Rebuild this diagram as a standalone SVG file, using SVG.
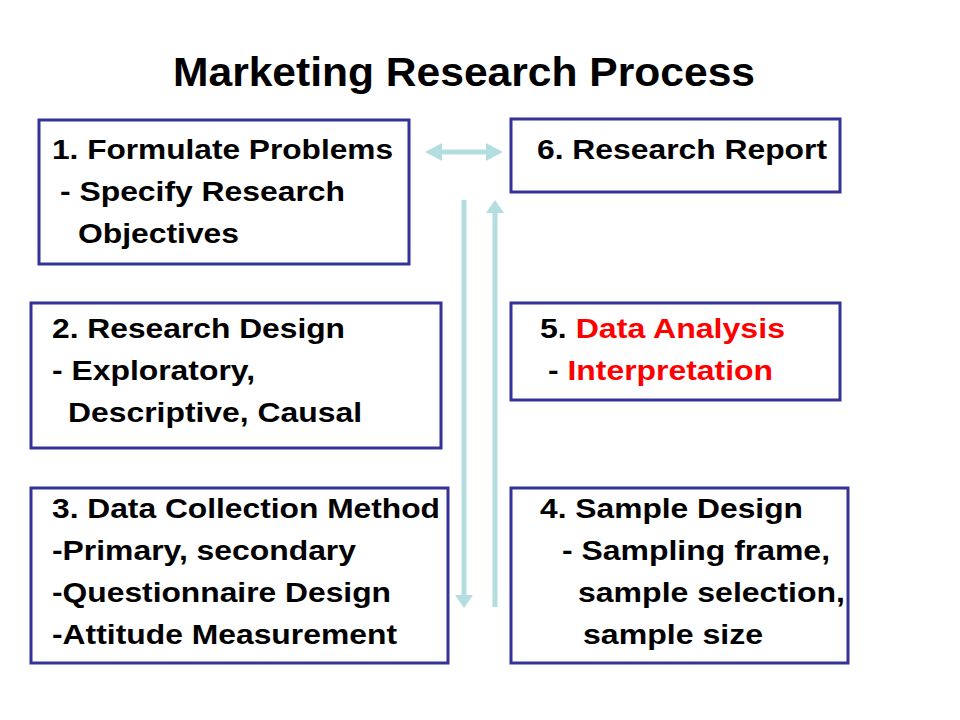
<svg xmlns="http://www.w3.org/2000/svg" width="960" height="720" viewBox="0 0 960 720">
<style>
.b{fill:#fff;stroke:#333399;stroke-width:3}
text{font-family:"Liberation Sans",Arial,sans-serif;font-weight:bold;font-size:28px;fill:#000}
.r{fill:#ff0000}
.c{stroke:#b4dde0;stroke-width:5;fill:none}
.h{fill:#b4dde0}
</style>
<rect width="960" height="720" fill="#fff"/>
<text x="173" y="86" textLength="582" lengthAdjust="spacingAndGlyphs" style="font-size:40px">Marketing Research Process</text>
<g id="n1"><rect class="b" x="39" y="120" width="370" height="144"/>
<text x="52" y="159" textLength="341" lengthAdjust="spacingAndGlyphs">1. Formulate Problems</text><text x="60" y="201" textLength="285" lengthAdjust="spacingAndGlyphs">- Specify Research</text><text x="78" y="243" textLength="161" lengthAdjust="spacingAndGlyphs">Objectives</text></g>
<g id="n6"><rect class="b" x="511" y="119" width="329" height="73"/>
<text x="537" y="159" textLength="290" lengthAdjust="spacingAndGlyphs">6. Research Report</text></g>
<g id="n2"><rect class="b" x="31" y="303" width="410" height="145"/>
<text x="52" y="338" textLength="293" lengthAdjust="spacingAndGlyphs">2. Research Design</text><text x="52" y="380" textLength="203" lengthAdjust="spacingAndGlyphs">- Exploratory,</text><text x="68" y="422" textLength="294" lengthAdjust="spacingAndGlyphs">Descriptive, Causal</text></g>
<g id="n5"><rect class="b" x="511" y="303" width="329" height="97"/>
<text x="540" y="338" textLength="245" lengthAdjust="spacingAndGlyphs">5. <tspan class="r">Data Analysis</tspan></text><text x="548" y="380" textLength="225" lengthAdjust="spacingAndGlyphs">- <tspan class="r">Interpretation</tspan></text></g>
<g id="n3"><rect class="b" x="31" y="488" width="417" height="175"/>
<text x="52" y="518" textLength="388" lengthAdjust="spacingAndGlyphs">3. Data Collection Method</text><text x="52" y="560" textLength="304" lengthAdjust="spacingAndGlyphs">-Primary, secondary</text><text x="52" y="602" textLength="339" lengthAdjust="spacingAndGlyphs">-Questionnaire Design</text><text x="52" y="644" textLength="345" lengthAdjust="spacingAndGlyphs">-Attitude Measurement</text></g>
<g id="n4"><rect class="b" x="511" y="488" width="337" height="175"/>
<text x="540" y="518" textLength="263" lengthAdjust="spacingAndGlyphs">4. Sample Design</text><text x="562" y="560" textLength="268" lengthAdjust="spacingAndGlyphs">- Sampling frame,</text><text x="578" y="602" textLength="267" lengthAdjust="spacingAndGlyphs">sample selection,</text><text x="583" y="644" textLength="180" lengthAdjust="spacingAndGlyphs">sample size</text></g>
<g id="connectors">
<line class="c" x1="438" y1="152" x2="490" y2="152"/>
<polygon class="h" points="425,152 442,143 442,161"/>
<polygon class="h" points="503,152 486,143 486,161"/>
<line class="c" x1="464" y1="200" x2="464" y2="595"/>
<polygon class="h" points="464,608 455,595 473,595"/>
<line class="c" x1="495" y1="607" x2="495" y2="212"/>
<polygon class="h" points="495,200 486,213 504,213"/>
</g>
</svg>
